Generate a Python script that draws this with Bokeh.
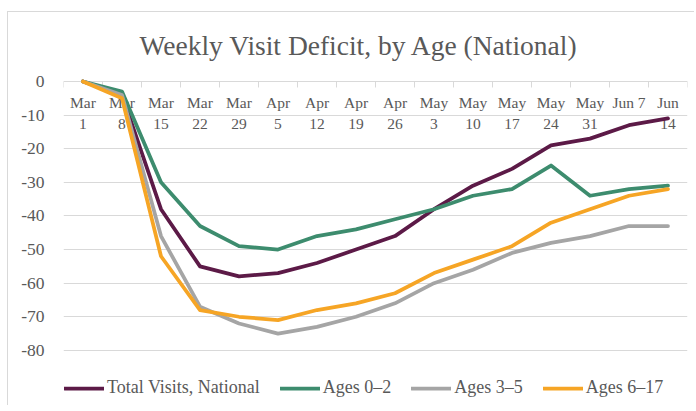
from bokeh.plotting import figure
from bokeh.models import Range1d, FixedTicker, Legend, LegendItem
from bokeh.core.properties import value
from bokeh.embed import file_html
from bokeh.resources import INLINE

# ---- data ----
dates = ["Mar 1", "Mar 8", "Mar 15", "Mar 22", "Mar 29", "Apr 5", "Apr 12", "Apr 19",
         "Apr 26", "May 3", "May 10", "May 17", "May 24", "May 31", "Jun 7", "Jun 14"]
x_labels = ["Mar\n1", "Mar\n8", "Mar\n15", "Mar\n22", "Mar\n29", "Apr\n5", "Apr\n12", "Apr\n19",
            "Apr\n26", "May\n3", "May\n10", "May\n17", "May\n24", "May\n31", "Jun 7", "Jun\n14"]
total_visits = [0, -4, -38, -55, -58, -57, -54, -50, -46, -38, -31, -26, -19, -17, -13, -11]
ages_0_2 = [0, -3, -30, -43, -49, -50, -46, -44, -41, -38, -34, -32, -25, -34, -32, -31]
ages_3_5 = [0, -4, -46, -67, -72, -75, -73, -70, -66, -60, -56, -51, -48, -46, -43, -43]
ages_6_17 = [0, -5, -52, -68, -70, -71, -68, -66, -63, -57, -53, -49, -42, -38, -34, -32]
y_ticks = [-80, -70, -60, -50, -40, -30, -20, -10, 0]
y_tick_labels = ["-80", "-70", "-60", "-50", "-40", "-30", "-20", "-10", "0"]

series = [
    ("Total Visits, National", total_visits, "#5c1a47"),
    ("Ages 0\u20132", ages_0_2, "#3d8c6e"),
    ("Ages 3\u20135", ages_3_5, "#a5a5a5"),
    ("Ages 6\u201317", ages_6_17, "#f6a525"),
]

FONT = "Liberation Serif"
TXT = "#595959"
GRID = "#d9d9d9"

xs = list(range(len(dates)))
boundaries = [i - 0.5 for i in range(len(dates) + 1)]

p = figure(width=687, height=394, output_backend="svg", toolbar_location=None,
           x_range=Range1d(-0.5, len(dates) - 0.5), y_range=Range1d(-96.7, 4.76),
           x_axis_location="above",
           min_border_left=55, min_border_right=8, min_border_top=53, min_border_bottom=0,
           outline_line_color=None,
           styles={"margin-left": "7px", "margin-top": "11px",
                   "border-left": "1px solid #d9d9d9", "border-top": "1px solid #d9d9d9"})

# title
p.title.text = "Weekly Visit Deficit, by Age (National)"
p.title.align = "left"
p.title.offset = 76
p.title.text_font = FONT
p.title.text_font_size = "27.5px"
p.title.text_font_style = "normal"
p.title.text_color = TXT

# y axis
yax = p.yaxis[0]
yax.ticker = FixedTicker(ticks=y_ticks)
yax.major_label_overrides = {t: s for t, s in zip(y_ticks, y_tick_labels)}
yax.axis_line_color = None
yax.major_tick_line_color = None
yax.minor_tick_line_color = None
yax.major_label_standoff = 13
yax.major_label_text_font = FONT
yax.major_label_text_font_size = "17.5px"
yax.major_label_text_color = TXT

p.xgrid.visible = False
p.ygrid.ticker = FixedTicker(ticks=y_ticks)
p.ygrid.grid_line_color = GRID
p.ygrid.grid_line_width = 1

# invisible top axis (keeps the title spacing); the zero gridline acts as category axis
xax = p.xaxis[0]
xax.ticker = FixedTicker(ticks=[], minor_ticks=boundaries)
xax.axis_line_color = None
xax.major_tick_line_color = None
xax.minor_tick_line_color = None
xax.minor_tick_in = 6
xax.minor_tick_out = 0
xax.major_label_standoff = 0

# tick marks between categories, hanging from the zero line
p.ray(x=boundaries, y=[0] * len(boundaries), length=6, length_units="screen",
      angle=-90, angle_units="deg", line_color=GRID, line_width=1)

# category labels drawn just below the zero line
p.text(x=xs, y=[0] * len(xs), text=x_labels, y_offset=13,
       text_align="center", text_baseline="top", text_line_height=1.2,
       text_font=value(FONT), text_font_size="15.5px", text_color=TXT)

items = []
for name, vals, color in series:
    r = p.line(xs, vals, line_color=color, line_width=3.75, line_join="round", line_cap="round")
    items.append(LegendItem(label=name, renderers=[r]))

legend = Legend(items=items, orientation="horizontal", location=(1, 8),
                glyph_width=40, glyph_height=20, label_standoff=3, spacing=20,
                label_text_font=FONT, label_text_font_size="18px", label_text_color=TXT,
                border_line_color=None, background_fill_alpha=0, padding=0, margin=0)
p.add_layout(legend)

open("out.html", "w").write(file_html(p, INLINE))
